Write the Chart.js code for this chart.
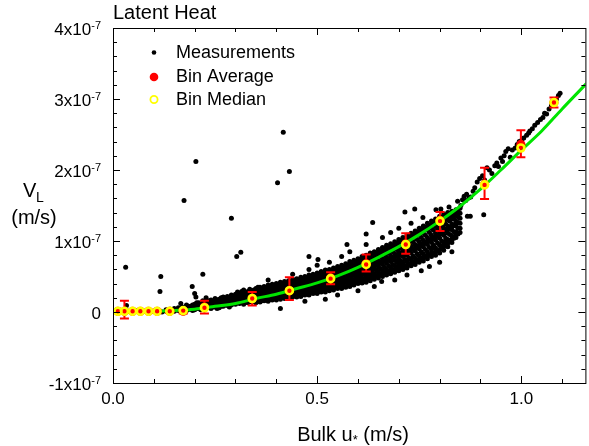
<!DOCTYPE html>
<html>
<head>
<meta charset="utf-8">
<script src="https://cdn.jsdelivr.net/npm/chart.js@4"></script>
<style>
  html, body { margin: 0; padding: 0; background: #fff; overflow: hidden; }
</style>
</head>
<body>
<canvas id="chart" width="592" height="446"></canvas>
<script>
// all V values in units of 1e-7 m/s

// bins: u*, average, median, error bar top / bottom
const binU   = [0.012, 0.028, 0.048, 0.067, 0.087, 0.108, 0.139, 0.172, 0.224, 0.341, 0.432, 0.533, 0.620, 0.717, 0.801, 0.910, 0.999, 1.080]
const binAvg = [0.01, 0.01, 0.01, 0.01, 0.01, 0.01, 0.01, 0.01, 0.07, 0.19, 0.30, 0.48, 0.68, 0.96, 1.29, 1.80, 2.36, 2.95]
const binMed = [0.01, 0.01, 0.01, 0.01, 0.01, 0.01, 0.01, 0.02, 0.06, 0.19, 0.30, 0.47, 0.67, 0.95, 1.28, 1.79, 2.31, 2.95]
const binHi  = [0.03, 0.16, 0.03, 0.03, 0.03, 0.03, 0.03, 0.04, 0.16, 0.28, 0.49, 0.56, 0.81, 1.11, 1.41, 2.03, 2.56, 3.02]
const binLo  = [-0.01, -0.09, -0.01, -0.01, -0.01, -0.01, -0.01, -0.02, -0.02, 0.09, 0.17, 0.39, 0.57, 0.82, 1.14, 1.59, 2.18, 2.88]

// fitted curve
const fitU = [0, 0.05, 0.1, 0.15, 0.2, 0.25, 0.3, 0.35, 0.4, 0.45, 0.5, 0.55, 0.6, 0.65, 0.7, 0.75, 0.8, 0.85, 0.9, 0.95, 1.0, 1.05, 1.1, 1.16]
const fitV = [0, 0.0, 0.01, 0.02, 0.04, 0.08, 0.12, 0.19, 0.25, 0.33, 0.41, 0.51, 0.63, 0.77, 0.92, 1.09, 1.28, 1.49, 1.73, 2.00, 2.28, 2.55, 2.86, 3.22]

// individual measurements [u*, V]
const measured = [
  [0.01,0.00],[0.02,0.01],[0.03,-0.01],[0.04,0.01],[0.05,0.00],[0.06,0.02],[0.07,0.00],[0.08,0.01],[0.09,-0.01],[0.10,0.01],[0.11,0.02],[0.12,0.00],[0.13,0.03],[0.13,0.01],
  [0.14,0.00],[0.14,0.04],[0.15,0.01],[0.15,0.05],[0.16,0.02],[0.16,0.06],[0.17,0.03],[0.17,0.07],[0.18,0.02],[0.18,0.06],[0.18,0.10],[0.19,0.04],[0.19,0.08],
  [0.20,0.03],[0.20,0.07],[0.20,0.11],[0.21,0.05],[0.21,0.09],[0.21,0.13],[0.22,0.04],[0.22,0.08],[0.22,0.12],[0.22,0.16],[0.23,0.06],[0.23,0.10],[0.23,0.14],
  [0.24,0.05],[0.24,0.09],[0.24,0.13],[0.24,0.17],[0.25,0.07],[0.25,0.11],[0.25,0.15],[0.25,0.19],[0.26,0.06],[0.26,0.10],[0.26,0.14],[0.26,0.18],
  [0.27,0.08],[0.27,0.12],[0.27,0.16],[0.27,0.21],[0.28,0.09],[0.28,0.13],[0.28,0.17],[0.28,0.22],[0.29,0.10],[0.29,0.14],[0.29,0.19],[0.29,0.24],
  [0.30,0.11],[0.30,0.15],[0.30,0.20],[0.30,0.25],[0.31,0.12],[0.31,0.16],[0.31,0.21],[0.31,0.26],[0.32,0.11],[0.32,0.17],[0.32,0.22],[0.32,0.27],[0.32,0.31],
  [0.33,0.13],[0.33,0.18],[0.33,0.23],[0.33,0.29],[0.34,0.14],[0.34,0.19],[0.34,0.24],[0.34,0.30],[0.35,0.13],[0.35,0.18],[0.35,0.23],[0.35,0.28],[0.35,0.33],
  [0.145,0.02],[0.155,0.03],[0.165,0.04],[0.165,0.01],[0.175,0.05],[0.175,0.02],[0.185,0.04],[0.185,0.08],[0.195,0.06],[0.195,0.02],[0.195,0.10],
  [0.205,0.05],[0.205,0.09],[0.205,0.13],[0.215,0.07],[0.215,0.11],[0.215,0.03],[0.225,0.06],[0.225,0.10],[0.225,0.14],[0.235,0.08],[0.235,0.12],[0.235,0.16],
  [0.245,0.07],[0.245,0.11],[0.245,0.15],[0.255,0.09],[0.255,0.13],[0.255,0.17],[0.255,0.05],[0.265,0.08],[0.265,0.12],[0.265,0.16],[0.265,0.20],
  [0.275,0.10],[0.275,0.14],[0.275,0.19],[0.285,0.11],[0.285,0.15],[0.285,0.20],[0.285,0.07],[0.295,0.12],[0.295,0.17],[0.295,0.22],
  [0.305,0.13],[0.305,0.18],[0.305,0.23],[0.305,0.28],[0.315,0.14],[0.315,0.19],[0.315,0.24],[0.315,0.29],[0.325,0.15],[0.325,0.20],[0.325,0.25],
  [0.335,0.16],[0.335,0.21],[0.335,0.26],[0.335,0.32],[0.345,0.16],[0.345,0.22],[0.345,0.27],[0.345,0.31],[0.355,0.16],[0.355,0.21],[0.355,0.26],[0.355,0.30],[0.355,0.35],
  [0.36,0.14],[0.36,0.18],[0.36,0.22],[0.36,0.27],[0.36,0.31],[0.36,0.35],
  [0.37,0.16],[0.37,0.19],[0.37,0.24],[0.37,0.28],[0.37,0.32],[0.37,0.36],
  [0.38,0.15],[0.38,0.20],[0.38,0.25],[0.38,0.29],[0.38,0.34],[0.38,0.38],
  [0.39,0.17],[0.39,0.21],[0.39,0.26],[0.39,0.30],[0.39,0.35],[0.39,0.39],
  [0.40,0.17],[0.40,0.22],[0.40,0.27],[0.40,0.31],[0.40,0.36],[0.40,0.40],
  [0.41,0.18],[0.41,0.23],[0.41,0.28],[0.41,0.32],[0.41,0.37],[0.41,0.42],
  [0.42,0.19],[0.42,0.24],[0.42,0.29],[0.42,0.33],[0.42,0.38],[0.42,0.43],
  [0.43,0.20],[0.43,0.24],[0.43,0.30],[0.43,0.35],[0.43,0.39],[0.43,0.44],
  [0.44,0.21],[0.44,0.25],[0.44,0.31],[0.44,0.36],[0.44,0.40],[0.44,0.46],
  [0.45,0.21],[0.45,0.27],[0.45,0.32],[0.45,0.37],[0.45,0.42],[0.45,0.47],
  [0.46,0.22],[0.46,0.28],[0.46,0.33],[0.46,0.38],[0.46,0.44],[0.46,0.49],
  [0.47,0.24],[0.47,0.29],[0.47,0.34],[0.47,0.40],[0.47,0.45],[0.47,0.50],
  [0.48,0.24],[0.48,0.30],[0.48,0.35],[0.48,0.41],[0.48,0.46],[0.48,0.52],
  [0.49,0.26],[0.49,0.31],[0.49,0.37],[0.49,0.42],[0.49,0.48],[0.49,0.53],
  [0.50,0.26],[0.50,0.32],[0.50,0.38],[0.50,0.44],[0.50,0.49],[0.50,0.55],
  [0.51,0.28],[0.51,0.33],[0.51,0.39],[0.51,0.45],[0.51,0.51],[0.51,0.57],
  [0.52,0.28],[0.52,0.35],[0.52,0.41],[0.52,0.47],[0.52,0.53],[0.52,0.59],
  [0.53,0.30],[0.53,0.36],[0.53,0.42],[0.53,0.48],[0.53,0.54],[0.53,0.60],
  [0.54,0.31],[0.54,0.37],[0.54,0.43],[0.54,0.50],[0.54,0.56],[0.54,0.62],
  [0.55,0.33],[0.55,0.38],[0.55,0.45],[0.55,0.51],[0.55,0.58],[0.55,0.64],
  [0.56,0.33],[0.56,0.40],[0.56,0.46],[0.56,0.53],[0.56,0.59],[0.56,0.66],
  [0.57,0.35],[0.57,0.42],[0.57,0.48],[0.57,0.55],[0.57,0.61],[0.57,0.68],
  [0.58,0.36],[0.58,0.43],[0.58,0.50],[0.58,0.57],[0.58,0.64],[0.58,0.71],
  [0.59,0.38],[0.59,0.45],[0.59,0.52],[0.59,0.59],[0.59,0.66],[0.59,0.73],
  [0.365,0.16],[0.365,0.20],[0.365,0.25],[0.365,0.29],[0.365,0.33],
  [0.375,0.17],[0.375,0.22],[0.375,0.26],[0.375,0.30],[0.375,0.34],
  [0.385,0.18],[0.385,0.23],[0.385,0.27],[0.385,0.32],[0.385,0.36],
  [0.395,0.19],[0.395,0.24],[0.395,0.28],[0.395,0.33],[0.395,0.37],
  [0.405,0.20],[0.405,0.25],[0.405,0.29],[0.405,0.34],[0.405,0.38],
  [0.415,0.21],[0.415,0.26],[0.415,0.30],[0.415,0.35],[0.415,0.40],
  [0.425,0.21],[0.425,0.27],[0.425,0.31],[0.425,0.36],[0.425,0.41],
  [0.435,0.22],[0.435,0.28],[0.435,0.33],[0.435,0.37],[0.435,0.42],
  [0.445,0.23],[0.445,0.28],[0.445,0.34],[0.445,0.38],[0.445,0.44],
  [0.455,0.24],[0.455,0.30],[0.455,0.35],[0.455,0.40],[0.455,0.45],
  [0.465,0.25],[0.465,0.31],[0.465,0.36],[0.465,0.41],[0.465,0.47],
  [0.475,0.26],[0.475,0.32],[0.475,0.37],[0.475,0.43],[0.475,0.48],
  [0.485,0.27],[0.485,0.33],[0.485,0.39],[0.485,0.44],[0.485,0.50],
  [0.495,0.29],[0.495,0.35],[0.495,0.40],[0.495,0.46],[0.495,0.51],
  [0.505,0.29],[0.505,0.35],[0.505,0.41],[0.505,0.47],[0.505,0.53],
  [0.515,0.31],[0.515,0.36],[0.515,0.42],[0.515,0.48],[0.515,0.54],
  [0.525,0.32],[0.525,0.38],[0.525,0.44],[0.525,0.50],[0.525,0.56],
  [0.535,0.33],[0.535,0.39],[0.535,0.45],[0.535,0.51],[0.535,0.58],
  [0.545,0.34],[0.545,0.40],[0.545,0.47],[0.545,0.53],[0.545,0.59],
  [0.555,0.36],[0.555,0.42],[0.555,0.48],[0.555,0.55],[0.555,0.61],
  [0.565,0.37],[0.565,0.44],[0.565,0.50],[0.565,0.57],[0.565,0.63],
  [0.575,0.39],[0.575,0.45],[0.575,0.52],[0.575,0.59],[0.575,0.66],
  [0.585,0.40],[0.585,0.47],[0.585,0.54],[0.585,0.61],[0.585,0.68],
  [0.595,0.42],[0.595,0.49],[0.595,0.56],[0.595,0.63],[0.595,0.70],
  [0.60,0.40],[0.60,0.46],[0.60,0.50],[0.60,0.54],[0.60,0.61],[0.60,0.65],[0.60,0.68],[0.60,0.75],
  [0.61,0.41],[0.61,0.44],[0.61,0.48],[0.61,0.56],[0.61,0.59],[0.61,0.63],[0.61,0.71],[0.61,0.74],[0.61,0.78],
  [0.62,0.42],[0.62,0.46],[0.62,0.50],[0.62,0.57],[0.62,0.61],[0.62,0.65],[0.62,0.73],[0.62,0.77],[0.62,0.80],
  [0.63,0.44],[0.63,0.48],[0.63,0.52],[0.63,0.60],[0.63,0.64],[0.63,0.68],[0.63,0.75],[0.63,0.79],[0.63,0.83],
  [0.64,0.46],[0.64,0.50],[0.64,0.54],[0.64,0.62],[0.64,0.66],[0.64,0.70],[0.64,0.77],[0.64,0.81],[0.64,0.85],
  [0.65,0.48],[0.65,0.52],[0.65,0.56],[0.65,0.64],[0.65,0.68],[0.65,0.72],[0.65,0.80],[0.65,0.84],[0.65,0.88],
  [0.66,0.50],[0.66,0.54],[0.66,0.58],[0.66,0.67],[0.66,0.71],[0.66,0.75],[0.66,0.83],[0.66,0.87],[0.66,0.91],
  [0.67,0.52],[0.67,0.56],[0.67,0.60],[0.67,0.69],[0.67,0.73],[0.67,0.77],[0.67,0.86],[0.67,0.90],[0.67,0.94],
  [0.68,0.54],[0.68,0.58],[0.68,0.62],[0.68,0.71],[0.68,0.75],[0.68,0.79],[0.68,0.88],[0.68,0.92],[0.68,0.96],
  [0.69,0.56],[0.69,0.60],[0.69,0.65],[0.69,0.73],[0.69,0.77],[0.69,0.82],[0.69,0.90],[0.69,0.94],[0.69,0.99],
  [0.70,0.58],[0.70,0.62],[0.70,0.67],[0.70,0.75],[0.70,0.80],[0.70,0.84],[0.70,0.93],[0.70,0.97],[0.70,1.02],
  [0.71,0.60],[0.71,0.64],[0.71,0.69],[0.71,0.78],[0.71,0.82],[0.71,0.87],[0.71,0.96],[0.71,1.00],[0.71,1.05],
  [0.72,0.62],[0.72,0.66],[0.72,0.71],[0.72,0.80],[0.72,0.85],[0.72,0.90],[0.72,0.99],[0.72,1.03],[0.72,1.08],
  [0.73,0.65],[0.73,0.69],[0.73,0.74],[0.73,0.83],[0.73,0.88],[0.73,0.93],[0.73,1.02],[0.73,1.06],[0.73,1.11],
  [0.74,0.67],[0.74,0.71],[0.74,0.76],[0.74,0.86],[0.74,0.90],[0.74,0.95],[0.74,1.05],[0.74,1.09],[0.74,1.14],
  [0.75,0.70],[0.75,0.74],[0.75,0.79],[0.75,0.89],[0.75,0.94],[0.75,0.99],[0.75,1.08],[0.75,1.13],[0.75,1.18],
  [0.76,0.72],[0.76,0.77],[0.76,0.82],[0.76,0.92],[0.76,0.96],[0.76,1.01],[0.76,1.11],[0.76,1.16],[0.76,1.21],
  [0.77,0.75],[0.77,0.80],[0.77,0.85],[0.77,0.95],[0.77,1.00],[0.77,1.05],[0.77,1.15],[0.77,1.20],[0.77,1.25],
  [0.78,0.78],[0.78,0.83],[0.78,0.88],[0.78,0.98],[0.78,1.03],[0.78,1.08],[0.78,1.18],[0.78,1.23],[0.78,1.28],
  [0.79,0.80],[0.79,0.85],[0.79,0.90],[0.79,1.01],[0.79,1.06],[0.79,1.11],[0.79,1.21],[0.79,1.26],[0.79,1.31],
  [0.80,0.83],[0.80,0.88],[0.80,0.94],[0.80,1.04],[0.80,1.09],[0.80,1.14],[0.80,1.25],[0.80,1.30],[0.80,1.35],
  [0.81,0.87],[0.81,0.92],[0.81,0.97],[0.81,1.08],[0.81,1.13],[0.81,1.18],[0.81,1.28],[0.81,1.33],[0.81,1.38],
  [0.82,0.92],[0.82,0.97],[0.82,1.02],[0.82,1.11],[0.82,1.16],[0.82,1.21],[0.82,1.30],[0.82,1.35],[0.82,1.40],
  [0.83,0.98],[0.83,1.02],[0.83,1.07],[0.83,1.16],[0.83,1.20],[0.83,1.24],[0.83,1.33],[0.83,1.37],[0.83,1.42],
  [0.84,1.05],[0.84,1.09],[0.84,1.13],[0.84,1.21],[0.84,1.25],[0.84,1.28],[0.84,1.36],[0.84,1.40],[0.84,1.44],
  [0.85,1.12],[0.85,1.18],[0.85,1.25],[0.85,1.32],[0.85,1.39],[0.85,1.46],
  [0.605,0.43],[0.605,0.52],[0.605,0.58],[0.605,0.66],[0.605,0.72],
  [0.615,0.45],[0.615,0.53],[0.615,0.61],[0.615,0.68],[0.615,0.76],
  [0.625,0.47],[0.625,0.55],[0.625,0.63],[0.625,0.70],[0.625,0.78],
  [0.635,0.49],[0.635,0.57],[0.635,0.65],[0.635,0.73],[0.635,0.81],
  [0.645,0.51],[0.645,0.59],[0.645,0.67],[0.645,0.75],[0.645,0.83],
  [0.655,0.53],[0.655,0.61],[0.655,0.70],[0.655,0.78],[0.655,0.86],
  [0.665,0.55],[0.665,0.63],[0.665,0.72],[0.665,0.81],[0.665,0.89],
  [0.675,0.57],[0.675,0.65],[0.675,0.74],[0.675,0.83],[0.675,0.92],
  [0.685,0.59],[0.685,0.67],[0.685,0.76],[0.685,0.85],[0.685,0.94],
  [0.695,0.61],[0.695,0.70],[0.695,0.79],[0.695,0.88],[0.695,0.97],
  [0.705,0.63],[0.705,0.72],[0.705,0.81],[0.705,0.90],[0.705,1.00],
  [0.715,0.65],[0.715,0.74],[0.715,0.84],[0.715,0.93],[0.715,1.03],
  [0.725,0.67],[0.725,0.76],[0.725,0.86],[0.725,0.96],[0.725,1.06],
  [0.735,0.70],[0.735,0.79],[0.735,0.89],[0.735,0.99],[0.735,1.09],
  [0.745,0.72],[0.745,0.82],[0.745,0.92],[0.745,1.02],[0.745,1.12],
  [0.755,0.75],[0.755,0.85],[0.755,0.95],[0.755,1.05],[0.755,1.16],
  [0.765,0.78],[0.765,0.88],[0.765,0.98],[0.765,1.08],[0.765,1.19],
  [0.775,0.80],[0.775,0.91],[0.775,1.01],[0.775,1.12],[0.775,1.22],
  [0.785,0.83],[0.785,0.94],[0.785,1.04],[0.785,1.15],[0.785,1.26],
  [0.795,0.86],[0.795,0.97],[0.795,1.07],[0.795,1.18],[0.795,1.29],
  [0.805,0.90],[0.805,1.00],[0.805,1.11],[0.805,1.21],[0.805,1.32],
  [0.815,0.94],[0.815,1.04],[0.815,1.14],[0.815,1.24],[0.815,1.35],
  [0.825,0.99],[0.825,1.09],[0.825,1.18],[0.825,1.28],[0.825,1.38],
  [0.835,1.04],[0.835,1.13],[0.835,1.22],[0.835,1.31],[0.835,1.40],
  [0.845,1.10],[0.845,1.18],[0.845,1.26],[0.845,1.34],[0.845,1.42],
  // ragged edges of the band
  [0.38,0.45],[0.41,0.05],[0.44,0.53],[0.47,0.15],[0.48,0.60],[0.50,0.66],[0.52,0.18],[0.53,0.70],[0.55,0.24],[0.56,0.78],
  [0.573,0.95],[0.58,0.85],[0.60,0.30],[0.62,0.95],[0.62,1.10],[0.636,1.26],[0.64,0.36],[0.658,0.43],[0.66,1.05],[0.68,1.12],
  [0.69,0.45],[0.70,1.18],[0.715,1.41],[0.72,0.52],[0.73,1.25],[0.739,1.45],[0.751,0.74],[0.755,0.58],[0.759,1.33],[0.775,0.64],
  [0.783,0.91],[0.791,1.44],[0.80,0.70],[0.803,1.45],[0.815,1.00],[0.823,1.48],[0.83,0.85],[0.868,1.35],[0.875,1.35],[0.908,1.37],
  [0.480,0.78],[0.502,0.74],
  // thin upper branch
  [0.844,1.56],[0.860,1.63],[0.864,1.57],[0.872,1.61],[0.876,1.62],[0.892,1.83],[0.916,2.03],[0.928,1.95],[0.944,2.05],[0.954,2.12],
  [0.962,2.26],[0.973,2.18],[0.985,2.31],[1.001,2.42],[1.013,2.49],[1.021,2.55],[1.033,2.63],[1.053,2.74],[1.062,2.79],[1.074,2.91],
  [1.086,3.00],[1.091,3.05],
  [0.852,1.50],[0.856,1.58],[0.866,1.66],[0.882,1.70],[0.886,1.75],[0.898,1.88],[0.905,1.92],[0.910,1.86],[0.922,2.00],[0.935,2.06],
  [0.940,2.10],[0.950,2.17],[0.958,2.20],[0.968,2.30],[0.978,2.28],[0.990,2.36],[0.995,2.40],[1.006,2.45],[1.018,2.52],[1.027,2.58],
  [1.040,2.67],[1.047,2.71],[1.057,2.80],[1.068,2.86],[1.080,2.96],[1.095,3.08],
  // scattered outliers
  [0.417,2.53],[0.203,2.12],[0.432,1.98],[0.403,1.82],[0.174,1.57],[0.290,1.32],[0.031,0.63],[0.117,0.50],[0.115,0.29],[0.194,0.36],
  [0.200,0.26],[0.203,0.21],[0.220,0.53],[0.228,0.20],[0.166,0.12],[0.033,0.09],[0.303,0.78],[0.313,0.84]
]

const xTickLabels = ['0.0', '0.5', '1.0']
const yTickLabels = ['-1', '0', '1', '2', '3', '4']

const FONT = "'Liberation Sans', Arial, sans-serif"

const drawErrorBars = (chart) => {
  const {ctx, scales: {x, y}} = chart
  ctx.save()
  ctx.strokeStyle = '#ff0000'
  ctx.lineWidth = 2
  binU.forEach((u, i) => {
    const px = x.getPixelForValue(u)
    const top = y.getPixelForValue(binHi[i])
    const bot = y.getPixelForValue(binLo[i])
    ctx.beginPath()
    ctx.moveTo(px, top); ctx.lineTo(px, bot)
    ctx.moveTo(px - 4.5, top); ctx.lineTo(px + 4.5, top)
    ctx.moveTo(px - 4.5, bot); ctx.lineTo(px + 4.5, bot)
    ctx.stroke()
  })
  ctx.restore()
}

const decor = {
  id: 'decor',
  beforeDatasetDraw(chart, args) {
    if (args.index === 2) drawErrorBars(chart)
  },
  afterDraw(chart) {
    const {ctx, chartArea: a, scales: {x, y}} = chart
    ctx.save()
    ctx.strokeStyle = '#000'
    ctx.lineWidth = 1
    // frame
    ctx.strokeRect(Math.round(a.left) + 0.5, Math.round(a.top) + 0.5, a.right - a.left, a.bottom - a.top)
    // x ticks (every 0.1, major every 0.5), inward on bottom and top
    ctx.beginPath()
    for (let i = 0; i <= 11; i++) {
      const px = Math.round(x.getPixelForValue(i / 10)) + 0.5
      const len = i % 5 === 0 ? 7 : 4
      ctx.moveTo(px, a.bottom); ctx.lineTo(px, a.bottom - len)
      ctx.moveTo(px, a.top); ctx.lineTo(px, a.top + len)
    }
    // y ticks (every 0.2e-7, major every 1e-7), inward on left and right
    for (let i = -5; i <= 20; i++) {
      const py = Math.round(y.getPixelForValue(i / 5)) + 0.5
      const len = i % 5 === 0 ? 7 : 4
      ctx.moveTo(a.left, py); ctx.lineTo(a.left + len, py)
      ctx.moveTo(a.right, py); ctx.lineTo(a.right - len, py)
    }
    ctx.stroke()

    ctx.fillStyle = '#000'
    // x tick labels
    ctx.font = '17px ' + FONT
    ctx.textAlign = 'center'
    ctx.textBaseline = 'alphabetic'
    xTickLabels.forEach(t => ctx.fillText(t, x.getPixelForValue(parseFloat(t)), 404))
    // y tick labels with superscript exponent
    yTickLabels.forEach(t => {
      const py = y.getPixelForValue(parseFloat(t))
      const xEnd = a.left - 12
      if (t === '0') {
        ctx.font = '17px ' + FONT
        ctx.textAlign = 'right'
        ctx.fillText('0', xEnd, py + 7)
        return
      }
      ctx.textAlign = 'left'
      ctx.font = '11px ' + FONT
      const wSup = ctx.measureText('-7').width
      ctx.font = '17px ' + FONT
      const base = t + 'x10'
      const wBase = ctx.measureText(base).width
      ctx.fillText(base, xEnd - wSup - wBase, py + 7)
      ctx.font = '11px ' + FONT
      ctx.fillText('-7', xEnd - wSup, py + 1)
    })

    // title
    ctx.font = '20px ' + FONT
    ctx.textAlign = 'left'
    ctx.fillText('Latent Heat', 113, 19)

    // y axis title: V_L (m/s)
    ctx.fillText('V', 23, 197)
    ctx.font = '14px ' + FONT
    ctx.fillText('L', 36, 202)
    ctx.font = '20px ' + FONT
    ctx.textAlign = 'center'
    ctx.fillText('(m/s)', 34, 224)

    // x axis title: Bulk u* (m/s)
    ctx.textAlign = 'left'
    const p1 = 'Bulk u', p2 = '*', p3 = ' (m/s)'
    const w1 = ctx.measureText(p1).width
    const w3 = ctx.measureText(p3).width
    ctx.font = '13px ' + FONT
    const w2 = ctx.measureText(p2).width
    const x0 = 353 - (w1 + w2 + w3) / 2
    ctx.font = '20px ' + FONT
    ctx.fillText(p1, x0, 441)
    ctx.font = '13px ' + FONT
    ctx.fillText(p2, x0 + w1, 444)
    ctx.font = '20px ' + FONT
    ctx.fillText(p3, x0 + w1 + w2, 441)

    // legend
    const lx = 154
    ctx.beginPath(); ctx.arc(lx, 52.5, 2.3, 0, Math.PI * 2); ctx.fill()
    ctx.fillStyle = '#ff0000'
    ctx.beginPath(); ctx.arc(lx, 77, 4.3, 0, Math.PI * 2); ctx.fill()
    ctx.strokeStyle = '#ffff00'
    ctx.lineWidth = 1.8
    ctx.beginPath(); ctx.arc(lx, 99.5, 3.6, 0, Math.PI * 2); ctx.stroke()
    ctx.fillStyle = '#000'
    ctx.font = '18px ' + FONT
    ctx.textAlign = 'left'
    ctx.textBaseline = 'middle'
    ctx.fillText('Measurements', 176, 53)
    ctx.fillText('Bin Average', 176, 77.5)
    ctx.fillText('Bin Median', 176, 100)
    ctx.restore()
  }
}

new Chart(document.getElementById('chart'), {
  type: 'scatter',
  data: {
    datasets: [
      {
        label: 'Measurements',
        data: measured.map(p => ({x: p[0], y: p[1]})),
        backgroundColor: '#000',
        borderWidth: 0,
        pointRadius: 2.5,
        order: 5
      },
      {
        type: 'line',
        label: 'Fit',
        data: fitU.map((u, i) => ({x: u, y: fitV[i]})),
        borderColor: '#00e400',
        borderWidth: 3,
        pointRadius: 0,
        fill: false,
        cubicInterpolationMode: 'monotone',
        order: 4
      },
      {
        label: 'Bin Average',
        data: binU.map((u, i) => ({x: u, y: binAvg[i]})),
        backgroundColor: '#ff0000',
        borderWidth: 0,
        pointRadius: 4.6,
        order: 2
      },
      {
        label: 'Bin Median',
        data: binU.map((u, i) => ({x: u, y: binMed[i]})),
        backgroundColor: 'rgba(0,0,0,0)',
        borderColor: '#ffff00',
        borderWidth: 2.6,
        pointRadius: 3.5,
        order: 1
      }
    ]
  },
  options: {
    responsive: false,
    animation: false,
    events: [],
    layout: {padding: {left: 113, top: 28, right: 1, bottom: 63}},
    scales: {
      x: {type: 'linear', min: 0, max: 1.157, display: false},
      y: {type: 'linear', min: -1, max: 4, display: false}
    },
    plugins: {
      legend: {display: false},
      tooltip: {enabled: false}
    }
  },
  plugins: [decor]
})
</script>
</body>
</html>
